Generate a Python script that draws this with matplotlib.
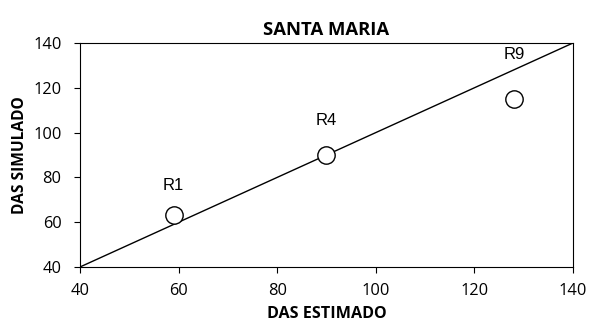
import matplotlib
matplotlib.use("Agg")
import matplotlib.pyplot as plt

plt.rcParams['font.family'] = ['Open Sans', 'DejaVu Sans']

labels = ["R1", "R4", "R9"]
estimado = [59, 90, 128]
simulado = [63, 90, 115]
line_x = [40, 140]
line_y = [40, 140]
ticks = [40, 60, 80, 100, 120, 140]
label_offsets_pt = [21.6, 24.5, 31.7]

fig = plt.figure(figsize=(5.89, 3.23), dpi=100)
ax = fig.add_axes([0.1358, 0.1734, 0.8370, 0.6935])
ax.plot(line_x, line_y, color='black', linewidth=1.0)
ax.plot(estimado, simulado, 'o', markersize=12.5, markerfacecolor='white',
        markeredgecolor='black', markeredgewidth=1.0, linestyle='none')
for lab, x, y, off in zip(labels, estimado, simulado, label_offsets_pt):
    ax.annotate(lab, (x, y), xytext=(0, off), textcoords='offset points',
                ha='center', va='center', fontsize=12, family='Liberation Sans')
ax.set_xlim(40, 140)
ax.set_ylim(40, 140)
ax.set_xticks(ticks)
ax.set_yticks(ticks)
ax.tick_params(direction='out', length=4.3, width=0.8, labelsize=11.8)
ax.tick_params(axis='y', pad=9)
ax.tick_params(axis='x', pad=7.5)
for s in ax.spines.values():
    s.set_linewidth(0.8)
ax.set_title("SANTA MARIA", fontsize=13.3, fontweight='bold', pad=6)
ax.set_xlabel("DAS ESTIMADO", fontsize=11.6, fontweight='bold', labelpad=5)
ax.set_ylabel("DAS SIMULADO", fontsize=11.2, fontweight='bold', labelpad=4)
fig.savefig("out.png", dpi=100)
